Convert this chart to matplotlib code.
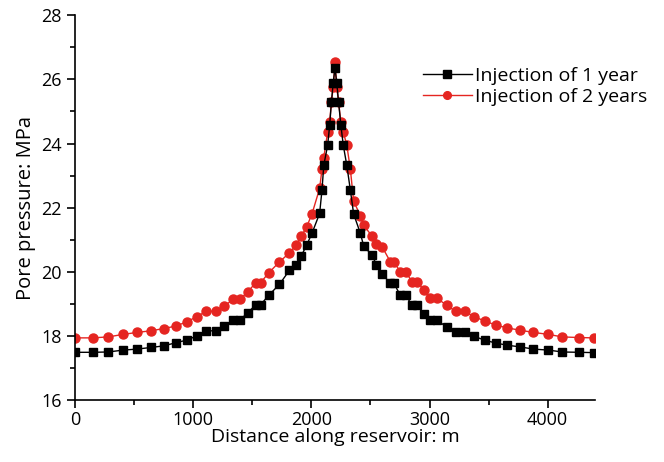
import matplotlib
matplotlib.use("Agg")
import matplotlib.pyplot as plt
from matplotlib.ticker import MultipleLocator

plt.rcParams['font.family'] = ['Open Sans', 'DejaVu Sans']

# distance along reservoir (m), shared by both curves
distance = [0, 150, 280, 410, 525, 640, 750, 855, 945, 1030,
            1110, 1190, 1260, 1340, 1395, 1460, 1530, 1570, 1640, 1730,
            1815, 1870, 1915, 1960, 2005, 2070, 2090, 2105, 2138, 2155,
            2170, 2185, 2200, 2215, 2230, 2250, 2270, 2300, 2330, 2358,
            2415, 2443, 2514, 2551, 2599, 2669, 2697, 2754, 2797, 2853,
            2896, 2952, 3003, 3065, 3144, 3220, 3297, 3376, 3466, 3559,
            3659, 3765, 3879, 4003, 4125, 4266, 4392]

# pore pressure (MPa) after 1 year of injection
p_1year = [17.49, 17.49, 17.50, 17.56, 17.59, 17.64, 17.69, 17.79, 17.87, 18.00,
           18.16, 18.16, 18.31, 18.49, 18.49, 18.72, 18.97, 18.97, 19.27, 19.61,
           20.05, 20.20, 20.50, 20.83, 21.20, 21.82, 22.55, 23.32, 23.95, 24.57,
           25.30, 25.90, 26.35, 25.90, 25.30, 24.57, 23.95, 23.32, 22.55, 21.80,
           21.20, 20.80, 20.52, 20.21, 19.93, 19.64, 19.64, 19.27, 19.27, 18.96,
           18.96, 18.70, 18.49, 18.49, 18.28, 18.12, 18.12, 17.99, 17.87, 17.78,
           17.71, 17.66, 17.59, 17.56, 17.50, 17.49, 17.48]

# pore pressure (MPa) after 2 years of injection
p_2year = [17.94, 17.94, 17.97, 18.05, 18.11, 18.16, 18.23, 18.31, 18.44, 18.60,
           18.77, 18.77, 18.93, 19.14, 19.14, 19.37, 19.66, 19.66, 19.97, 20.31,
           20.59, 20.83, 21.11, 21.40, 21.80, 22.60, 23.20, 23.56, 24.36, 24.67,
           25.30, 25.75, 26.55, 25.75, 25.30, 24.67, 24.36, 23.95, 23.20, 22.20,
           21.75, 21.45, 21.11, 20.88, 20.78, 20.31, 20.31, 20.00, 20.00, 19.69,
           19.69, 19.43, 19.17, 19.17, 18.96, 18.77, 18.77, 18.60, 18.47, 18.34,
           18.25, 18.18, 18.11, 18.05, 17.97, 17.95, 17.94]

fig = plt.figure(figsize=(6.64, 4.62), dpi=100)
ax = fig.add_axes([0.113, 0.134, 0.783, 0.833])

ax.plot(distance, p_1year, '-s', color='black', lw=1.0, ms=6,
        label='Injection of 1 year', zorder=3)
ax.plot(distance, p_2year, '-o', color='#e52521', lw=1.0, ms=6.5,
        label='Injection of 2 years', zorder=2)

ax.set_xlim(0, 4400)
ax.set_ylim(16, 28)
ax.xaxis.set_major_locator(MultipleLocator(1000))
ax.xaxis.set_minor_locator(MultipleLocator(500))
ax.yaxis.set_major_locator(MultipleLocator(2))
ax.yaxis.set_minor_locator(MultipleLocator(1))
ax.tick_params(which='major', direction='out', length=6, width=1.2, labelsize=13)
ax.tick_params(which='minor', direction='out', length=3.5, width=1.2)
ax.tick_params(axis='x', pad=2)

for side in ['top', 'right']:
    ax.spines[side].set_visible(False)
for side in ['left', 'bottom']:
    ax.spines[side].set_linewidth(1.2)

ax.set_xlabel('Distance along reservoir: m', fontsize=14, labelpad=-1)
ax.set_ylabel('Pore pressure: MPa', fontsize=14.5, labelpad=4)

ax.legend(loc='upper right', bbox_to_anchor=(1.115, 0.885), frameon=False,
          fontsize=14, handlelength=2.5, handletextpad=0.15,
          labelspacing=0.15, borderaxespad=0, markerscale=0.85)

fig.savefig('out.png', dpi=100)
